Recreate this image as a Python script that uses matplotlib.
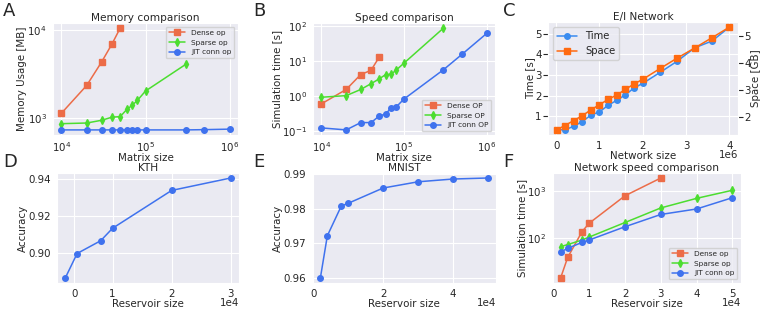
import matplotlib
matplotlib.use('Agg')
import matplotlib.pyplot as plt
import seaborn as sns

sns.set_style('darkgrid')
plt.rcParams['font.family'] = ['DejaVu Sans']

# A - memory comparison
a_dense_x = [1e4, 2e4, 3e4, 4e4, 5e4]
a_dense = [1140, 2350, 4300, 6900, 10400]
a_sparse_x = [1e4, 2e4, 3e4, 4e4, 5e4, 6e4, 7e4, 8e4, 1e5, 3e5]
a_sparse = [870, 885, 950, 1030, 1045, 1260, 1410, 1590, 2030, 4050]
a_jit_x = [1e4, 2e4, 3e4, 4e4, 5e4, 6e4, 7e4, 8e4, 1e5, 3e5, 5e5, 1e6]
a_jit = [740, 740, 740, 740, 740, 740, 740, 740, 740, 740, 745, 755]

# B - speed comparison
b_dense_x = [1e4, 2e4, 3e4, 4e4, 5e4]
b_dense = [0.58, 1.5, 4.0, 5.3, 12.5]
b_sparse_x = [1e4, 2e4, 3e4, 4e4, 5e4, 6e4, 7e4, 8e4, 1e5, 3e5]
b_sparse = [0.9, 1.0, 1.5, 2.2, 3.0, 4.0, 4.1, 5.3, 8.5, 85]
b_jit_x = [1e4, 2e4, 3e4, 4e4, 5e4, 6e4, 7e4, 8e4, 1e5, 3e5, 5e5, 1e6]
b_jit = [0.12, 0.105, 0.17, 0.17, 0.26, 0.3, 0.45, 0.47, 0.8, 5.5, 15, 60]

# C - E/I network
c_size = [0.01e6, 0.2e6, 0.4e6, 0.6e6, 0.8e6, 1.0e6, 1.2e6, 1.4e6, 1.6e6, 1.8e6,
          2.0e6, 2.4e6, 2.8e6, 3.2e6, 3.6e6, 4.0e6]
c_time = [0.36, 0.35, 0.52, 0.75, 1.06, 1.22, 1.54, 1.78, 2.05, 2.38,
          2.60, 3.13, 3.68, 4.32, 4.65, 5.32]
c_space = [1.51, 1.67, 1.85, 2.03, 2.25, 2.44, 2.64, 2.80, 3.01, 3.21,
           3.38, 3.78, 4.17, 4.54, 4.92, 5.31]

# D - KTH
d_size = [2000, 4000, 8000, 10000, 20000, 30000]
d_acc = [0.8866, 0.8998, 0.9067, 0.9134, 0.9338, 0.9405]
d_tick_pos = [3500, 10000, 20000, 30000]
d_tick_lab = ['0', '1', '2', '3']

# E - MNIST
e_size = [2000, 4000, 8000, 10000, 20000, 30000, 40000, 50000]
e_acc = [0.960, 0.9722, 0.9808, 0.9816, 0.9860, 0.9878, 0.9886, 0.9889]

# F - network speed comparison
f_dense_x = [2000, 4000, 8000, 10000, 20000, 30000]
f_dense = [13.5, 37.7, 135, 205, 800, 1930]
f_x = [2000, 4000, 8000, 10000, 20000, 30000, 40000, 50000]
f_sparse = [64, 71, 89, 103, 212, 437, 703, 1050]
f_jit = [49, 59, 79, 89, 172, 316, 415, 726]

DENSE = '#EC6C48'
SPARSE = '#4CDD30'
JIT = '#3F72EE'
TIME_C = '#3A8CF0'
SPACE_C = '#FF6A10'

W, H = 761, 311
fig = plt.figure(figsize=(W / 100, H / 100), dpi=100)


def box(l, t, r, b):
    return [l / W, 1 - b / H, (r - l) / W, (b - t) / H]


fs = 7.4
tfs = 7.6
lfs = 5.3
plt.rcParams['xtick.labelsize'] = fs
plt.rcParams['ytick.labelsize'] = fs
plt.rcParams['axes.labelsize'] = fs
plt.rcParams['axes.titlesize'] = tfs
plt.rcParams['axes.titlepad'] = 1.5
plt.rcParams['xtick.major.pad'] = 0.5
plt.rcParams['ytick.major.pad'] = 1
plt.rcParams['axes.labelpad'] = 0
plt.rcParams['text.color'] = '#262626'

ms = 4
lw = 1.1


def sci_x(ax):
    # x ticks as 0..5 with a "1eN" offset placed level with the axis label
    ax.ticklabel_format(axis='x', style='sci', scilimits=(0, 0))
    ax.xaxis.get_offset_text().set_fontsize(fs)
    ax.xaxis.OFFSETTEXTPAD = -0.5


# A
ax = fig.add_axes(box(53, 23, 238, 135))
ax.plot(a_dense_x, a_dense, color=DENSE, marker='s', ms=ms, lw=lw, label='Dense op')
ax.plot(a_sparse_x, a_sparse, color=SPARSE, marker='d', ms=ms, lw=lw, label='Sparse op')
ax.plot(a_jit_x, a_jit, color=JIT, marker='o', ms=ms, lw=lw, label='JIT conn op')
ax.set_xscale('log')
ax.set_yscale('log')
ax.set_title('Memory comparison')
ax.set_xlabel('Matrix size', labelpad=-1)
ax.set_ylabel('Memory Usage [MB]')
ax.legend(loc='upper right', fontsize=lfs, handlelength=2.2)

# B
ax = fig.add_axes(box(313, 23, 495, 135))
ax.plot(b_dense_x, b_dense, color=DENSE, marker='s', ms=ms, lw=lw, label='Dense OP')
ax.plot(b_sparse_x, b_sparse, color=SPARSE, marker='d', ms=ms, lw=lw, label='Sparse OP')
ax.plot(b_jit_x, b_jit, color=JIT, marker='o', ms=ms, lw=lw, label='JIT conn OP')
ax.set_xscale('log')
ax.set_yscale('log')
ax.set_title('Speed comparison')
ax.set_xlabel('Matrix size', labelpad=-1)
ax.set_ylabel('Simulation time [s]')
ax.legend(loc='lower right', fontsize=lfs, handlelength=2.2)

# C
ax = fig.add_axes(box(548, 22, 738, 135))
l1, = ax.plot(c_size, c_time, color=TIME_C, marker='o', ms=ms, lw=lw, label='Time')
ax2 = ax.twinx()
l2, = ax2.plot(c_size, c_space, color=SPACE_C, marker='s', ms=ms, lw=lw, label='Space')
ax2.grid(False)
sci_x(ax)
ax.set_title('E/I Network')
ax.set_xlabel('Network size')
ax.set_ylabel('Time [s]')
ax2.set_ylabel('Space [GB]')
ax2.set_yticks([2, 3, 4, 5])
ax.set_yticks([1, 2, 3, 4, 5])
ax.legend([l1, l2], ['Time', 'Space'], loc='upper left', fontsize=7.2)

# D
ax = fig.add_axes(box(57, 173, 239, 283))
ax.plot(d_size, d_acc, color=JIT, marker='o', ms=ms, lw=lw)
ax.set_xticks(d_tick_pos, d_tick_lab)
ax.set_yticks([0.90, 0.92, 0.94])
ax.text(1.0, -0.18, '1e4', transform=ax.transAxes, ha='right', va='center', fontsize=fs)
ax.set_title('KTH')
ax.set_xlabel('Reservoir size')
ax.set_ylabel('Accuracy')

# E
ax = fig.add_axes(box(312, 173, 496, 283))
ax.plot(e_size, e_acc, color=JIT, marker='o', ms=ms, lw=lw)
sci_x(ax)
ax.set_yticks([0.96, 0.97, 0.98, 0.99])
ax.set_title('MNIST')
ax.set_xlabel('Reservoir size')
ax.set_ylabel('Accuracy')

# F
ax = fig.add_axes(box(552, 173, 741, 283))
ax.plot(f_dense_x, f_dense, color=DENSE, marker='s', ms=ms, lw=lw, label='Dense op')
ax.plot(f_x, f_sparse, color=SPARSE, marker='d', ms=ms, lw=lw, label='Sparse op')
ax.plot(f_x, f_jit, color=JIT, marker='o', ms=ms, lw=lw, label='JIT conn op')
ax.set_yscale('log')
sci_x(ax)
ax.set_title('Network speed comparison')
ax.set_xlabel('Reservoir size')
ax.set_ylabel('Simulation time [s]')
ax.legend(loc='lower right', fontsize=lfs, handlelength=2.2)

for lab, (px, py) in zip('ABCDEF', [(3, 11), (253, 11), (503, 11), (3, 162), (253, 162), (503, 162)]):
    fig.text(px / W, 1 - py / H, lab, fontsize=13, va='center', ha='left')

fig.savefig('out.png', dpi=100)
